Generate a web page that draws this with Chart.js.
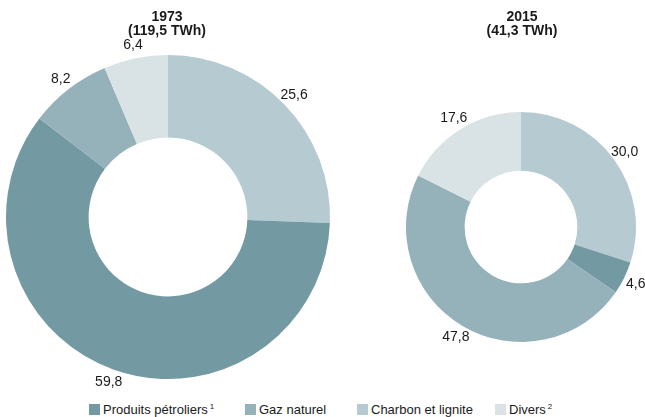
<!DOCTYPE html>
<html>
<head>
<meta charset="utf-8">
<script src="https://cdn.jsdelivr.net/npm/chart.js@4/dist/chart.umd.min.js"></script>
<style>
  html, body { margin: 0; padding: 0; background: #fff; }
  body { width: 645px; height: 417px; position: relative; overflow: hidden;
         font-family: "Liberation Sans", Arial, Helvetica, sans-serif; color: #1a1a1a; }
  .title { position: absolute; width: 160px; text-align: center; font-weight: bold;
           font-size: 14px; line-height: 14px; z-index: 2; }
  canvas { position: absolute; }
  #legend { position: absolute; top: 402px; left: 0; width: 645px; font-size: 13px; line-height: 15px; }
  .item { position: absolute; top: 0; white-space: nowrap; }
  .sw { display: inline-block; width: 11px; height: 11px; vertical-align: -1px; margin-right: 3px; }
  sup { font-size: 8px; vertical-align: 5px; line-height: 0; margin-left: 2px; }
</style>
</head>
<body>
<div class="title" style="left:87px; top:9px;">1973<br>(119,5 TWh)</div>
<div class="title" style="left:442px; top:9px;">2015<br>(41,3 TWh)</div>

<canvas id="c1973" width="345" height="375" style="left:0px; top:25px;"></canvas>
<canvas id="c2015" width="255" height="270" style="left:390px; top:95px;"></canvas>

<div id="legend"></div>

<script>
// data (legend order)
const categories = ['Produits pétroliers', 'Gaz naturel', 'Charbon et lignite', 'Divers'];
const notes = ['1', '', '', '2'];
const values1973 = [59.8, 8.2, 25.6, 6.4];
const values2015 = [4.6, 47.8, 30.0, 17.6];
// slices are drawn clockwise from the top in this order
const drawOrder = [2, 0, 1, 3];

const colors = ['#7399a3', '#95b1ba', '#b6cad1', '#d9e3e6'];

function fmt(v) { return v.toFixed(1).replace('.', ','); }

// value labels just outside each slice
const outsideLabels = {
  id: 'outsideLabels',
  afterDatasetsDraw(chart) {
    const ctx = chart.ctx;
    const meta = chart.getDatasetMeta(0);
    const ds = chart.data.datasets[0];
    ctx.save();
    ctx.font = '14px "Liberation Sans", Arial, sans-serif';
    ctx.fillStyle = '#1a1a1a';
    ctx.textAlign = 'center';
    ctx.textBaseline = 'middle';
    meta.data.forEach((arc, i) => {
      const mid = (arc.startAngle + arc.endAngle) / 2;
      const r = arc.outerRadius + 13;
      ctx.fillText(fmt(ds.data[i]), arc.x + Math.cos(mid) * r, arc.y + Math.sin(mid) * r);
    });
    ctx.restore();
  }
};

function makeChart(id, values, padding) {
  return new Chart(document.getElementById(id), {
    type: 'doughnut',
    data: {
      labels: drawOrder.map(i => categories[i]),
      datasets: [{
        data: drawOrder.map(i => values[i]),
        backgroundColor: drawOrder.map(i => colors[i]),
        borderWidth: 0,
        hoverOffset: 0
      }]
    },
    options: {
      responsive: false,
      animation: false,
      cutout: '49%',
      layout: { padding: padding },
      plugins: { legend: { display: false }, tooltip: { enabled: false } }
    },
    plugins: [outsideLabels]
  });
}

makeChart('c1973', values1973, { left: 6, right: 15, top: 30, bottom: 21 });
makeChart('c2015', values2015, { left: 16, right: 9, top: 17, bottom: 23 });

// legend
const legendX = [89, 245, 357, 495];
const legend = document.getElementById('legend');
categories.forEach((name, i) => {
  const el = document.createElement('div');
  el.className = 'item';
  el.style.left = legendX[i] + 'px';
  el.innerHTML = '<span class="sw" style="background:' + colors[i] + '"></span>' + name +
    (notes[i] ? '<sup>' + notes[i] + '</sup>' : '');
  legend.appendChild(el);
});
</script>
</body>
</html>
